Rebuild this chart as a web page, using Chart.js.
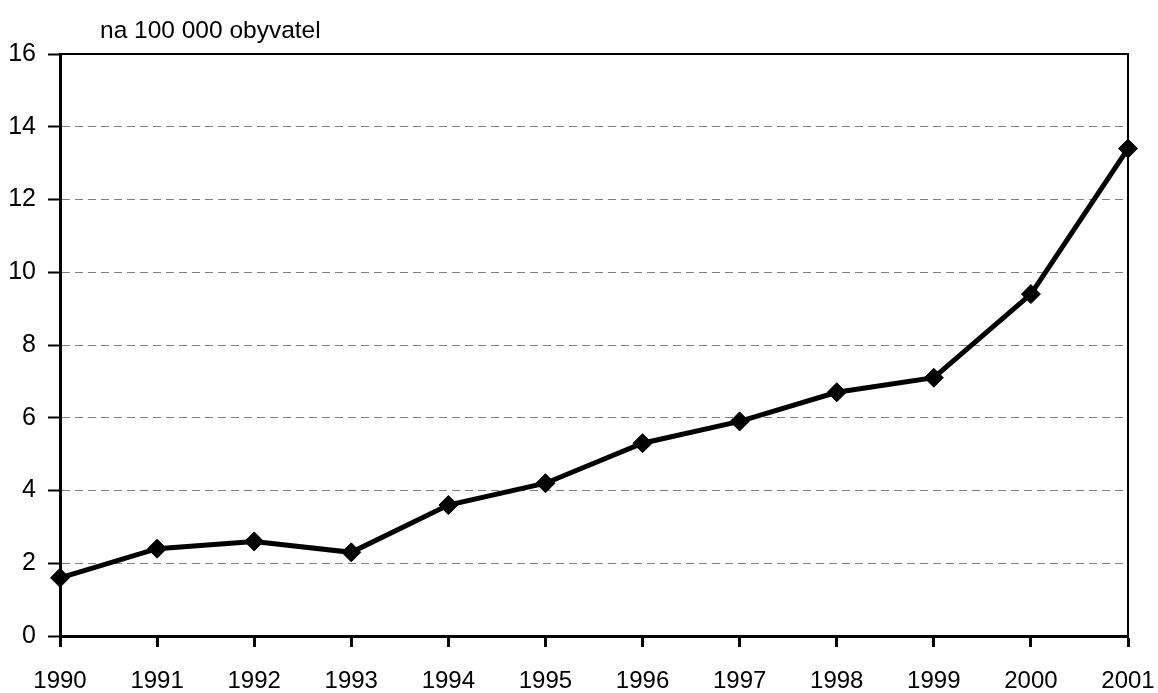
<!DOCTYPE html>
<html>
<head>
<meta charset="utf-8">
<script src="https://cdn.jsdelivr.net/npm/chart.js@4/dist/chart.umd.min.js"></script>
<style>
	html, body { margin: 0; padding: 0; background: #fff; }
	#wrap { width: 1158px; height: 693px; }
</style>
</head>
<body>
<div id="wrap"><canvas id="rateChart" width="1158" height="693"></canvas></div>
<script>
const years = ['1990', '1991', '1992', '1993', '1994', '1995', '1996', '1997', '1998', '1999', '2000', '2001'];
const rates = [1.6, 2.4, 2.6, 2.3, 3.6, 4.2, 5.3, 5.9, 6.7, 7.1, 9.4, 13.4];
const unitLabel = 'na 100 000 obyvatel';

// frame on top and right + unit text above the plot
const framePlugin = {
	id: 'frame',
	afterDraw(chart) {
		const { ctx, chartArea } = chart;
		ctx.save();
		ctx.strokeStyle = '#000';
		ctx.lineWidth = 2;
		ctx.beginPath();
		ctx.moveTo(chartArea.left, chartArea.top);
		ctx.lineTo(chartArea.right, chartArea.top);
		ctx.lineTo(chartArea.right, chartArea.bottom);
		ctx.stroke();
		ctx.fillStyle = '#000';
		ctx.font = '24.5px "Liberation Sans", Arial, sans-serif';
		ctx.textBaseline = 'alphabetic';
		ctx.fillText(unitLabel, 100, 38);
		ctx.restore();
	}
};

const ctx = document.getElementById('rateChart').getContext('2d');
new Chart(ctx, {
	type: 'line',
	data: {
		labels: years,
		datasets: [{
			data: rates,
			borderColor: '#000',
			borderWidth: 5,
			pointStyle: 'rectRot',
			pointRadius: 9.5,
			pointBorderWidth: 1,
			pointBackgroundColor: '#000',
			pointBorderColor: '#000',
			tension: 0
		}]
	},
	options: {
		responsive: false,
		animation: false,
		layout: { padding: { top: 54, right: 30, left: 0, bottom: 0 } },
		plugins: {
			legend: { display: false },
			tooltip: { enabled: false }
		},
		scales: {
			x: {
				offset: false,
				grid: {
					display: true,
					drawOnChartArea: false,
					tickLength: 11,
					tickColor: '#000',
					tickWidth: 3
				},
				border: { color: '#000', width: 3 },
				ticks: {
					color: '#000',
					padding: 20,
					maxRotation: 0,
					autoSkip: false,
					font: { family: '"Liberation Sans", Arial, sans-serif', size: 24 }
				},
				afterFit(scale) {
					scale.height = 57;
					// let the outer labels hang over the plot edges
					scale.paddingLeft = 0;
					scale.paddingRight = 0;
				}
			},
			y: {
				min: 0,
				max: 16,
				grid: {
					color: '#808080',
					lineWidth: 1,
					tickBorderDash: [],
					tickColor: '#000',
					tickWidth: 2,
					tickLength: 12
				},
				border: { color: '#000', width: 3, dash: [8, 5] },
				ticks: {
					stepSize: 2,
					color: '#000',
					padding: 12,
					font: { family: '"Liberation Sans", Arial, sans-serif', size: 25 }
				},
				afterFit(scale) { scale.width = 60; }
			}
		}
	},
	plugins: [framePlugin]
});
</script>
</body>
</html>
